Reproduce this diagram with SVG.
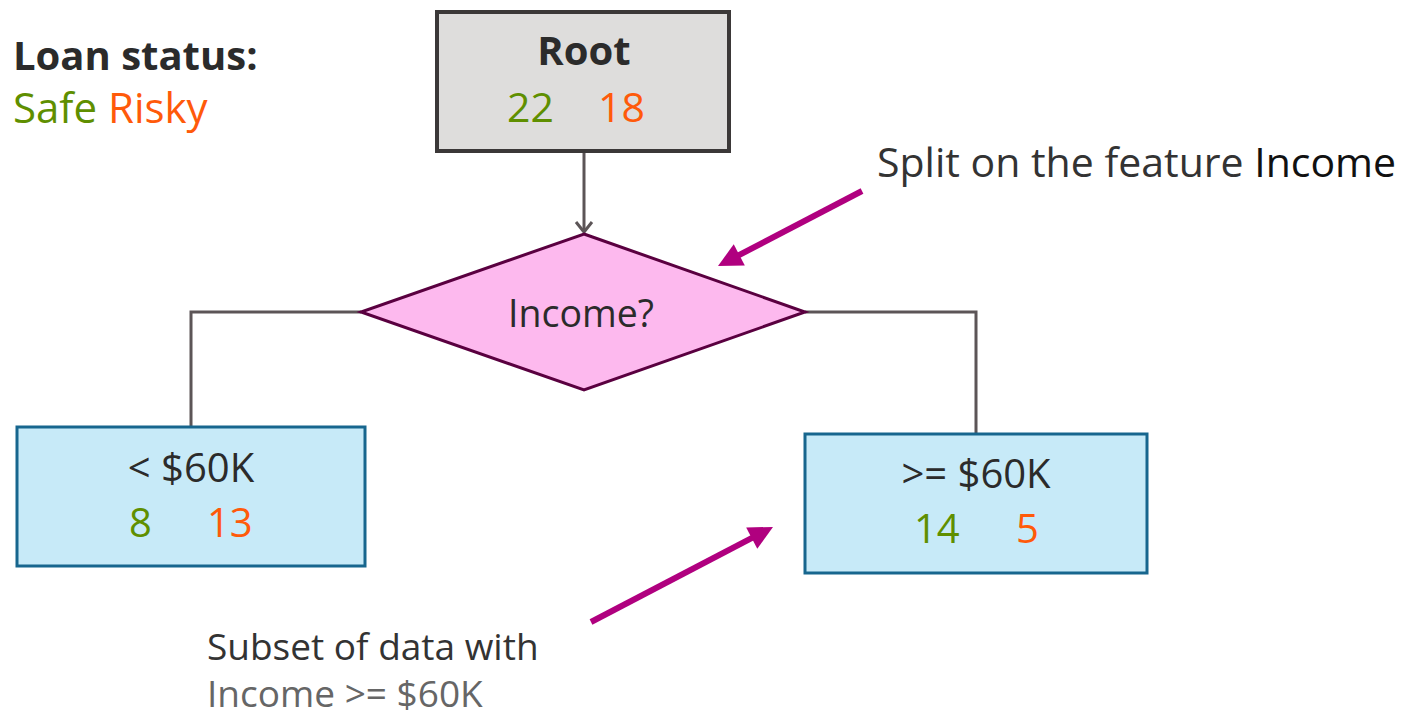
<svg xmlns="http://www.w3.org/2000/svg" width="1408" height="718" viewBox="0 0 1408 718">
<style>
text{font-family:"Open Sans","Noto Sans",sans-serif;}
.t{fill:#2b2b2b;}
.safe{fill:#5f8f00;}
.risky{fill:#ff5a0a;}
.conn{fill:none;stroke:#5c5557;stroke-width:3;}
.mag{fill:none;stroke:#b0007f;stroke-width:6;}
.leaf{fill:#c7eaf8;stroke:#17668e;stroke-width:3;}
</style>
<defs>
<marker id="vhead" markerWidth="24" markerHeight="24" viewBox="-12 -12 24 24" refX="0" refY="0" orient="auto" markerUnits="userSpaceOnUse">
<polyline points="-10,-8 0,0 -10,8" fill="none" stroke="#5c5557" stroke-width="3"/>
</marker>
<marker id="mhead" markerWidth="40" markerHeight="40" viewBox="-20 -20 40 40" refX="0" refY="0" orient="auto" markerUnits="userSpaceOnUse">
<polygon points="15,0 -9,-12 -9,12" fill="#b0007f"/>
</marker>
</defs>
<g id="legend">
<text x="13" y="70" font-size="40" font-weight="bold" class="t">Loan status:</text>
<text x="13" y="123" font-size="42"><tspan class="safe">Safe</tspan><tspan class="risky"> Risky</tspan></text>
</g>
<g id="connectors">
<line x1="584" y1="151" x2="584" y2="232" class="conn" marker-end="url(#vhead)"/>
<polyline points="361,312 191,312 191,427" class="conn"/>
<polyline points="805,312 976,312 976,434" class="conn"/>
<line x1="862" y1="191" x2="731.3" y2="259.1" class="mag" marker-end="url(#mhead)"/>
<line x1="591" y1="622" x2="759.7" y2="533.9" class="mag" marker-end="url(#mhead)"/>
</g>
<g id="root">
<rect x="437" y="12" width="292" height="139" fill="#dedddc" stroke="#3b3838" stroke-width="4"/>
<text x="584" y="65" font-size="40" font-weight="bold" text-anchor="middle" class="t">Root</text>
<text x="507" y="122" font-size="41" class="safe">22</text>
<text x="598" y="122" font-size="41" class="risky">18</text>
</g>
<g id="income">
<polygon points="584,234 805,312 584,390 361,312" fill="#fdb9ee" stroke="#5a0040" stroke-width="3"/>
<text x="581" y="327" font-size="37.5" text-anchor="middle" class="t">Income?</text>
</g>
<g id="lt60">
<rect x="17" y="427" width="348" height="139" class="leaf"/>
<text x="191" y="482" font-size="40" text-anchor="middle" class="t">&lt; $60K</text>
<text x="129" y="537" font-size="40" class="safe">8</text>
<text x="207" y="537" font-size="40" class="risky">13</text>
</g>
<g id="ge60">
<rect x="805" y="434" width="342" height="139" class="leaf"/>
<text x="976" y="488" font-size="40" text-anchor="middle" class="t">&gt;= $60K</text>
<text x="914" y="543" font-size="40" class="safe">14</text>
<text x="1016" y="543" font-size="40" class="risky">5</text>
</g>
<g id="split-note">
<text x="877" y="177" font-size="41" fill="#333">Split on the feature <tspan fill="#111">Income</tspan></text>
</g>
<g id="subset-note">
<text x="207" y="660" font-size="37" fill="#333">Subset of data with</text>
<text x="207" y="707" font-size="37" fill="#666">Income &gt;= $60K</text>
</g>
</svg>
